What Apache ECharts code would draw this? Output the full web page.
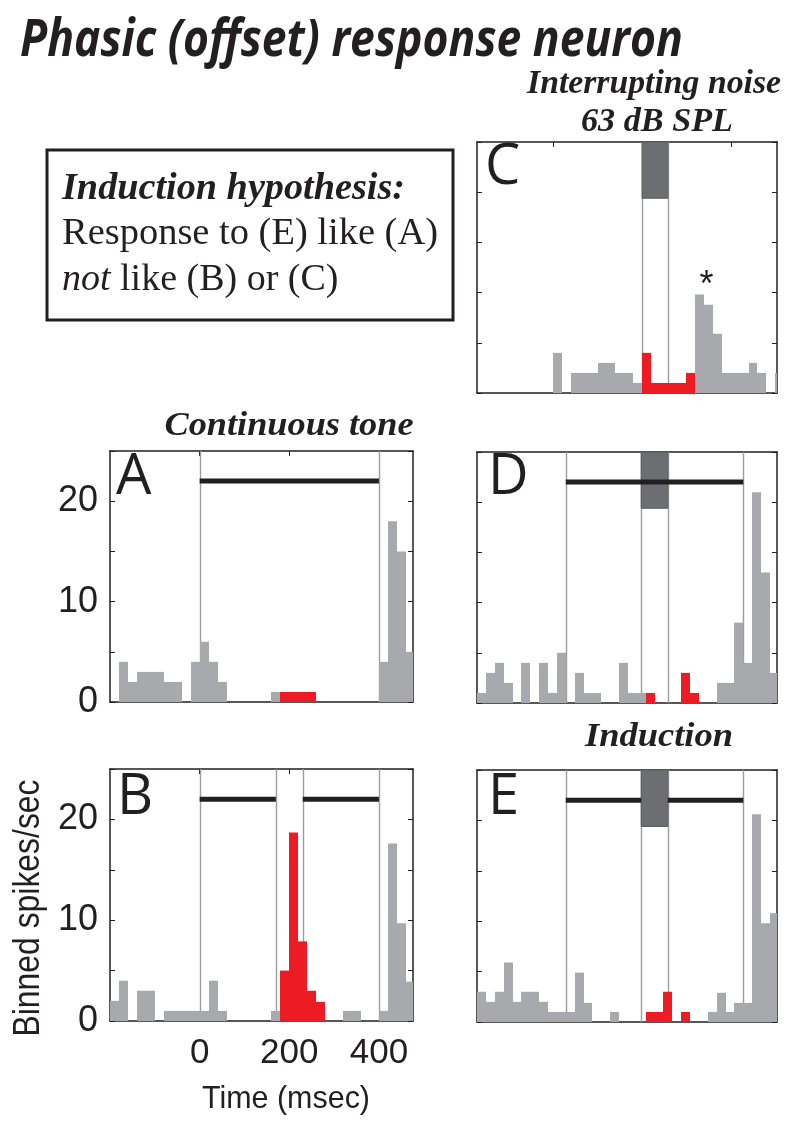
<!DOCTYPE html>
<html><head><meta charset="utf-8">
<script src="https://cdn.jsdelivr.net/npm/echarts@6/dist/echarts.min.js"></script>
<style>html,body{margin:0;padding:0;background:#fff}#c{width:800px;height:1132px}</style>
</head><body><div id="c"></div>
<script>
// ---------------- DATA ----------------
const binWidth = 20; // msec
const binStarts = [-200,-180,-160,-140,-120,-100,-80,-60,-40,-20,0,20,40,60,80,100,120,140,160,180,200,220,240,260,280,300,320,340,360,380,400,420,440,460];
// C panel is drawn on its own (shifted) time base
const binStartsC = [-180,-160,-140,-120,-100,-80,-60,-40,-20,0,20,40,60,80,100,120,140,160,180,200,220,240,260,280,300,320,340,360,380,400,420,440,460,480,500];

const panelA = [0,4,2,3,3,3,2,2,0,4,6,4,2,0,0,0,0,0,1,1,1,1,1,0,0,0,0,0,0,0,4,18,15,5];
const panelB = [2,4,0,3,3,0,1,1,1,1,1,4,1,0,0,0,0,0,1,5,18.7,7.9,3,1.9,0,0,1,1,0,0,1,17.6,9.7,3.9];
const panelC = [0,0,0,0,0,0,0,0,0,4,0,2,2,2,3,3,2,2,1,4,1,1,1,1,2,9.8,8.8,5.9,2,2,2,3,2,0,2];
const panelD = [1,3,4,2,0,4,0,4,1,5,0,3,1,1,0,0,4,1,1,1,0,0,0,3,1,0,0,2,2,8,4,21,13,3];
const panelE = [3,2,3,5.9,2,3,3,2,1,1,1,4.9,1.9,0,0,1,0,0,0,1,1,3,0,1,0,0,1,2.9,1,1.9,1.9,20.6,9.8,10.8];

const redWindow  = [180, 300];   // bins drawn red (A, B, D, E)
const redWindowC = [200, 320];   // bins drawn red (C)
const noiseWindow  = [170, 230];
const noiseWindowC = [200, 258];
const toneWindow = [0, 400];
const toneLevel = 22;
const noiseBoxBottom = 19.4;
const yMax = 25;
const yTickLabels = [0, 10, 20];
const xTickValues = [0, 200, 400];
const asteriskC = [345, 10.6];

// ---------------- STYLE ----------------
const INK = '#231f20', GRAY = '#a7a9ac', RED = '#ed1c24', BOX = '#6d6e71', VLINE = '#9d9d9d';
const SANS = '"Liberation Sans", Arial, sans-serif';
const SERIF = '"Liberation Serif", "Times New Roman", serif';
const LETTER = '"Open Sans", "Noto Sans", sans-serif';

const panels = [
  {key:'C', grid:{left:477,top:142,width:300,height:251}, bins:binStartsC, values:panelC, xMin:-172, xMax:504,
   red:redWindowC, noise:noiseWindowC, box:true, onOff:false, tone:[], yLabels:false, xLabels:false, star:true},
  {key:'A', grid:{left:110,top:451,width:303,height:251}, bins:binStarts, values:panelA, xMin:-200, xMax:476,
   red:redWindow, noise:null, box:false, onOff:true, tone:[toneWindow], yLabels:true, xLabels:false},
  {key:'D', grid:{left:477,top:452,width:300,height:251}, bins:binStarts, values:panelD, xMin:-200, xMax:476,
   red:redWindow, noise:noiseWindow, box:true, onOff:true, tone:[toneWindow], yLabels:false, xLabels:false},
  {key:'B', grid:{left:110,top:769,width:303,height:252}, bins:binStarts, values:panelB, xMin:-200, xMax:476,
   red:redWindow, noise:noiseWindow, box:false, onOff:true, tone:[[toneWindow[0],noiseWindow[0]],[noiseWindow[1],toneWindow[1]]], yLabels:true, xLabels:true},
  {key:'E', grid:{left:477,top:770,width:300,height:252}, bins:binStarts, values:panelE, xMin:-200, xMax:476,
   red:redWindow, noise:noiseWindow, box:true, onOff:true, tone:[[toneWindow[0],noiseWindow[0]],[noiseWindow[1],toneWindow[1]]], yLabels:false, xLabels:false}
];

const grids = [], xAxes = [], yAxes = [], series = [];
const axisLine = {show:true, onZero:false, lineStyle:{color:INK, width:1.5}};
const tick = {show:true, inside:true, length:5, lineStyle:{color:INK, width:1}};

panels.forEach((p, i) => {
  grids.push(Object.assign({containLabel:false}, p.grid));
  const xCommon = {type:'value', gridIndex:i, min:p.xMin, max:p.xMax, splitLine:{show:false}, axisLine};
  xAxes.push(Object.assign({}, xCommon, {position:'bottom',
    axisTick:Object.assign({customValues:xTickValues}, tick),
    axisLabel:{show:p.xLabels, customValues:xTickValues, margin:15, color:INK, fontSize:35, fontFamily:SANS}}));
  xAxes.push(Object.assign({}, xCommon, {position:'top',
    axisTick:Object.assign({customValues:xTickValues}, tick), axisLabel:{show:false}}));
  const yCommon = {type:'value', gridIndex:i, min:0, max:yMax, interval:5, splitLine:{show:false}, axisLine, axisTick:tick};
  yAxes.push(Object.assign({}, yCommon, {position:'left',
    axisLabel:{show:p.yLabels, margin:12, color:INK, fontSize:36, fontFamily:SANS,
      formatter:v => yTickLabels.includes(v) ? String(v) : ''}}));
  yAxes.push(Object.assign({}, yCommon, {position:'right', axisLabel:{show:false}}));

  const xi = 2*i, yi = 2*i;
  // vertical reference lines: tone on/off and noise on/off
  const vl = [];
  if (p.onOff) vl.push([toneWindow[0],0],[toneWindow[1],0]);
  if (p.noise) vl.push([p.noise[0],0],[p.noise[1],0]);
  series.push({type:'custom', xAxisIndex:xi, yAxisIndex:yi, z:1, silent:true, data:vl,
    renderItem:(params, api) => {
      const cs = params.coordSys; const x = Math.round(api.coord([api.value(0),0])[0]) + 0.5;
      return {type:'line', shape:{x1:x, y1:cs.y, x2:x, y2:cs.y+cs.height}, style:{stroke:VLINE, lineWidth:1.4}};
    }});
  // histogram bars
  const barData = p.bins.map((b, k) => [b, p.values[k]]).filter(d => d[1] > 0);
  series.push({type:'custom', xAxisIndex:xi, yAxisIndex:yi, z:2, silent:true, data:barData,
    renderItem:(params, api) => {
      const x0 = api.value(0), v = api.value(1);
      const a = api.coord([x0, v]), b = api.coord([x0 + binWidth, 0]);
      const cs = params.coordSys;
      const left = Math.round(a[0]), right = Math.round(b[0]);
      const rect = echarts.graphic.clipRectByRect({x:left, y:a[1], width:right-left, height:b[1]-a[1]},
        {x:cs.x, y:cs.y, width:cs.width, height:cs.height});
      if (!rect) return;
      const isRed = x0 >= p.red[0] && x0 < p.red[1];
      return {type:'rect', shape:rect, style:{fill:isRed ? RED : GRAY}};
    }});
  // noise box
  if (p.box) {
    series.push({type:'custom', xAxisIndex:xi, yAxisIndex:yi, z:3, silent:true,
      data:[[p.noise[0], p.noise[1], noiseBoxBottom, yMax]],
      renderItem:(params, api) => {
        const a = api.coord([api.value(0), api.value(3)]), b = api.coord([api.value(1), api.value(2)]);
        return {type:'rect', shape:{x:a[0], y:a[1], width:b[0]-a[0], height:b[1]-a[1]},
          style:{fill:BOX, stroke:'#5a5a5c', lineWidth:1}};
      }});
  }
  // tone bar
  if (p.tone.length) {
    series.push({type:'custom', xAxisIndex:xi, yAxisIndex:yi, z:4, silent:true,
      data:p.tone.map(s => [s[0], s[1], toneLevel]),
      renderItem:(params, api) => {
        const a = api.coord([api.value(0), api.value(2)]), b = api.coord([api.value(1), api.value(2)]);
        return {type:'line', shape:{x1:a[0], y1:a[1], x2:b[0], y2:b[1]}, style:{stroke:INK, lineWidth:5, lineCap:'butt'}};
      }});
  }
  if (p.star) {
    series.push({type:'custom', xAxisIndex:xi, yAxisIndex:yi, z:5, silent:true, data:[asteriskC],
      renderItem:(params, api) => {
        const a = api.coord([api.value(0), api.value(1)]);
        return {type:'text', x:a[0], y:a[1], style:{text:'*', font:'36px ' + SANS, fill:INK,
          align:'center', textAlign:'center', verticalAlign:'middle', textVerticalAlign:'middle'}};
      }});
  }
});

// ---------------- TEXT (graphic) ----------------
const mctx = document.createElement('canvas').getContext('2d');
function w(text, font){ mctx.font = font; return mctx.measureText(text).width; }
function T(text, x, y, font, align, target, extra){
  const s = target ? target / w(text, font) : 1;
  return Object.assign({type:'text', x, y, scaleX:s, silent:true,
    style:{text, font, fill:INK, align, textAlign:align, verticalAlign:'middle', textVerticalAlign:'middle'}}, extra || {});
}
const titleFont = 'italic bold 52px ' + LETTER;
const subFont = 'italic bold 33px ' + SERIF;
const boxFont = '38px ' + SERIF;
const boxBold = 'italic bold 38px ' + SERIF;
const boxItal = 'italic 38px ' + SERIF;
const letterFont = '56px ' + LETTER;

const graphics = [
  T('Phasic (offset) response neuron', 20, 41, titleFont, 'left', 663),
  T('Interrupting noise', 654, 84, subFont, 'center', 254),
  T('63 dB SPL', 657, 122, subFont, 'center', 152),
  T('Continuous tone', 289, 426, subFont, 'center', 249),
  T('Induction', 659, 737, subFont, 'center', 148),
  {type:'rect', silent:true, shape:{x:47, y:150, width:406, height:170}, style:{fill:'none', stroke:INK, lineWidth:3}},
  T('Induction hypothesis:', 62, 189, boxBold, 'left', 343),
  T('Response to (E) like (A)', 62, 234.5, boxFont, 'left', 376),
  T('not', 62, 280.5, boxItal, 'left'),
  T(' like (B) or (C)', 62 + w('not', boxItal), 280.5, boxFont, 'left'),
  T('A', 116, 478, letterFont, 'left'),
  T('B', 117, 798, letterFont, 'left'),
  T('C', 485, 168, letterFont, 'left'),
  T('D', 488, 478, letterFont, 'left'),
  T('E', 488, 798, letterFont, 'left'),
  T('Time (msec)', 286, 1099, '32px ' + SANS, 'center', 168),
  T('Binned spikes/sec', 29, 908, '36px ' + SANS, 'center', 257, {rotation: Math.PI/2})
];

const chart = echarts.init(document.getElementById('c'), null, {renderer:'canvas', width:800, height:1132});
chart.setOption({animation:false, backgroundColor:'#fff', grid:grids, xAxis:xAxes, yAxis:yAxes, series, graphic:graphics});
</script></body></html>
